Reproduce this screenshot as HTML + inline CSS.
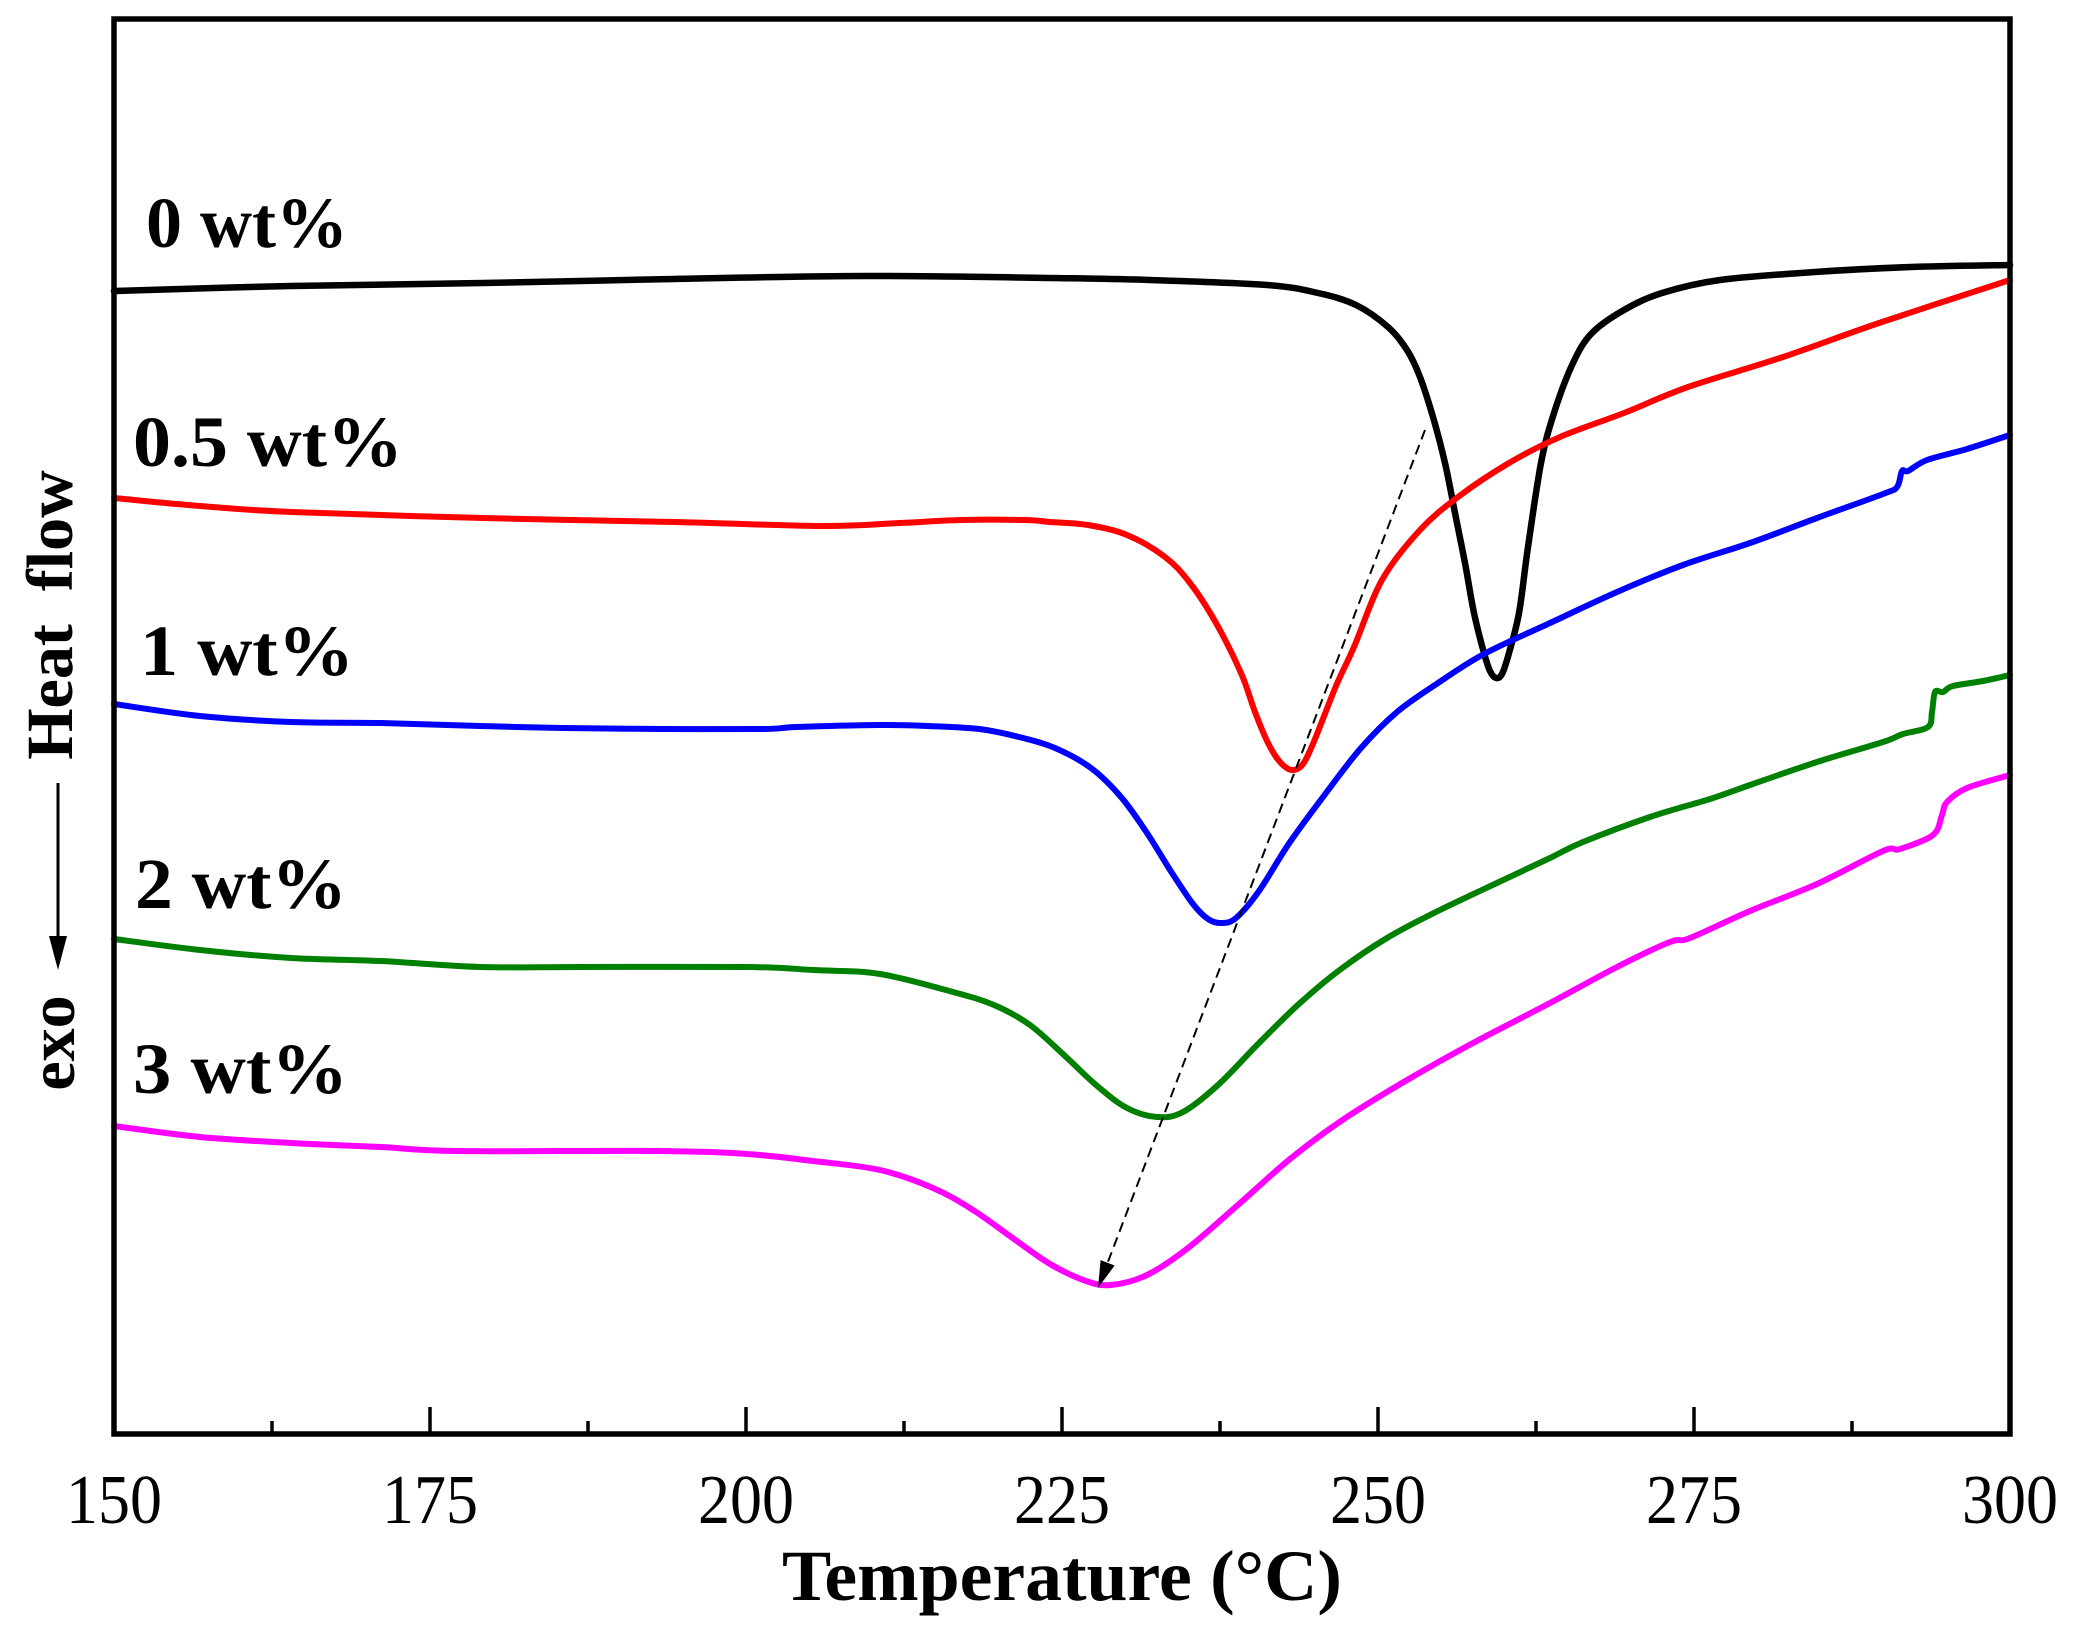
<!DOCTYPE html>
<html>
<head>
<meta charset="utf-8">
<style>
  html,body{margin:0;padding:0;background:#fff;}
  svg{display:block;}
  text{font-family:"Liberation Serif","DejaVu Serif",serif;}
</style>
</head>
<body>
<svg id="chart" width="2079" height="1630" viewBox="0 0 2079 1630" xmlns="http://www.w3.org/2000/svg">
  <rect x="0" y="0" width="2079" height="1630" fill="#fff"/>

  <!-- curves -->
  <g fill="none" stroke-linejoin="round" stroke-linecap="round">
    <polyline class="s" stroke="#000000" stroke-width="6.5" points="114,291 291,286 483,283 674,279 865,276 1050,278 1150,280 1267,285 1318,293 1356,305 1388,327 1407,350 1420,377 1433,417 1445,463 1455,513 1465,563 1474,613 1484,653 1490,671 1496,678 1502,674 1509,653 1519,613 1528,547 1541,463 1554,413 1573,363 1592,333 1624,310 1662,293 1720,280 1815,272 1911,267 2010,265"/>
    <polyline class="s" stroke="#ff0000" stroke-width="6" points="114,498 200,506 291,512 483,518 674,522 821,526 900,523 961,520 1025,520 1050,522 1088,525 1127,535 1165,557 1190,583 1216,623 1241,673 1255,712 1268,743 1280,762 1292,770 1303,764 1315,739 1336,686 1354,647 1382,580 1420,530 1458,497 1509,463 1560,437 1624,413 1688,387 1783,357 1879,323 2010,280"/>
    <polyline class="s" stroke="#0000ff" stroke-width="6" points="114,704 200,716 291,722 380,723 480,726 563,728 663,729 763,729 797,727 880,725 928,726 979,729 1019,737 1055,748 1091,768 1121,797 1147,833 1172,873 1193,904 1208,919 1221,923 1236,918 1259,891 1290,842 1326,793 1361,748 1397,712 1438,683 1484,654 1550,623 1617,592 1683,565 1750,543 1817,518 1883,494 1897,487 1902,471 1908,471 1927,460 1967,449 2010,435"/>
    <polyline class="s" stroke="#008000" stroke-width="6" points="114,939 200,950 291,958 380,961 480,967 580,967 747,967 813,970 880,974 953,992 994,1005 1030,1025 1065,1056 1096,1085 1127,1108 1157,1117 1183,1112 1218,1085 1259,1043 1300,1003 1341,969 1387,938 1438,911 1499,882 1550,858 1583,842 1650,817 1710,799 1750,785 1817,762 1883,742 1903,734 1928,727 1932,712 1935,692 1943,692 1953,686 1983,681 2010,675"/>
    <polyline class="s" stroke="#ff00ff" stroke-width="6" points="114,1126 200,1137 291,1143 380,1147 457,1151 657,1151 747,1154 813,1161 880,1170 933,1188 973,1210 1014,1239 1050,1264 1086,1281 1111,1285 1147,1275 1188,1248 1239,1204 1290,1159 1341,1121 1402,1083 1473,1043 1550,1003 1617,967 1670,942 1690,938 1750,911 1817,884 1883,851 1900,849 1933,835 1942,815 1947,802 1967,788 2010,775"/>
  </g>

  <!-- dashed arrow -->
  <line x1="1425" y1="430" x2="1107.6" y2="1262.8" stroke="#000" stroke-width="2" stroke-dasharray="10,6"/>
  <polygon points="1098,1288 1114.6,1265.5 1100.6,1260.1" fill="#000"/>

  <!-- frame -->
  <rect x="114" y="19" width="1896" height="1415" fill="none" stroke="#000" stroke-width="5.5"/>

  <!-- ticks -->
  <g stroke="#000" stroke-width="3.5">
    <line x1="430" y1="1434" x2="430" y2="1407"/>
    <line x1="746" y1="1434" x2="746" y2="1407"/>
    <line x1="1062" y1="1434" x2="1062" y2="1407"/>
    <line x1="1378" y1="1434" x2="1378" y2="1407"/>
    <line x1="1694" y1="1434" x2="1694" y2="1407"/>
    <line x1="272" y1="1434" x2="272" y2="1421"/>
    <line x1="588" y1="1434" x2="588" y2="1421"/>
    <line x1="904" y1="1434" x2="904" y2="1421"/>
    <line x1="1220" y1="1434" x2="1220" y2="1421"/>
    <line x1="1536" y1="1434" x2="1536" y2="1421"/>
    <line x1="1852" y1="1434" x2="1852" y2="1421"/>
  </g>

  <!-- tick labels -->
  <g font-size="70" text-anchor="middle" fill="#000">
    <text x="114" y="1523" textLength="96" lengthAdjust="spacingAndGlyphs">150</text>
    <text x="430" y="1523" textLength="96" lengthAdjust="spacingAndGlyphs">175</text>
    <text x="746" y="1523" textLength="96" lengthAdjust="spacingAndGlyphs">200</text>
    <text x="1062" y="1523" textLength="96" lengthAdjust="spacingAndGlyphs">225</text>
    <text x="1378" y="1523" textLength="96" lengthAdjust="spacingAndGlyphs">250</text>
    <text x="1694" y="1523" textLength="96" lengthAdjust="spacingAndGlyphs">275</text>
    <text x="2010" y="1523" textLength="96" lengthAdjust="spacingAndGlyphs">300</text>
  </g>

  <!-- axis title -->
  <text x="782" y="1600" font-size="72" font-weight="bold" fill="#000" textLength="560" lengthAdjust="spacingAndGlyphs">Temperature (°C)</text>

  <!-- y label -->
  <text transform="translate(72,615) rotate(-90)" font-size="66" font-weight="bold" text-anchor="middle" fill="#000">Heat&#160;&#160;flow</text>
  <text transform="translate(74,1043) rotate(-90)" font-size="66" font-weight="bold" text-anchor="middle" fill="#000">exo</text>
  <line x1="58" y1="783" x2="58" y2="945" stroke="#000" stroke-width="3"/>
  <polygon points="49,936 67,936 58,970" fill="#000"/>

  <!-- series labels -->
  <g font-size="72" font-weight="bold" fill="#000">
    <text x="146" y="247" textLength="202" lengthAdjust="spacingAndGlyphs">0 wt%</text>
    <text x="133" y="466" textLength="270" lengthAdjust="spacingAndGlyphs">0.5 wt%</text>
    <text x="140" y="675" textLength="214" lengthAdjust="spacingAndGlyphs">1 wt%</text>
    <text x="135" y="908" textLength="212" lengthAdjust="spacingAndGlyphs">2 wt%</text>
    <text x="133" y="1093" textLength="215" lengthAdjust="spacingAndGlyphs">3 wt%</text>
  </g>
</svg>
<script>
(function(){
  var NS="http://www.w3.org/2000/svg";
  var pls=document.querySelectorAll("polyline.s");
  for(var k=0;k<pls.length;k++){
    var pl=pls[k];
    var pts=pl.getAttribute("points").trim().split(/\s+/).map(function(p){return p.split(",").map(Number);});
    var d="M"+pts[0][0]+","+pts[0][1];
    for(var i=0;i<pts.length-1;i++){
      var p0=pts[i-1]||pts[i],p1=pts[i],p2=pts[i+1],p3=pts[i+2]||pts[i+1];
      var c1x=p1[0]+(p2[0]-p0[0])/6,c1y=p1[1]+(p2[1]-p0[1])/6;
      var c2x=p2[0]-(p3[0]-p1[0])/6,c2y=p2[1]-(p3[1]-p1[1])/6;
      d+=" C"+c1x.toFixed(1)+","+c1y.toFixed(1)+" "+c2x.toFixed(1)+","+c2y.toFixed(1)+" "+p2[0]+","+p2[1];
    }
    var path=document.createElementNS(NS,"path");
    path.setAttribute("d",d);
    path.setAttribute("stroke",pl.getAttribute("stroke"));
    path.setAttribute("stroke-width",pl.getAttribute("stroke-width"));
    path.setAttribute("fill","none");
    pl.parentNode.replaceChild(path,pl);
  }
})();
</script>
</body>
</html>
